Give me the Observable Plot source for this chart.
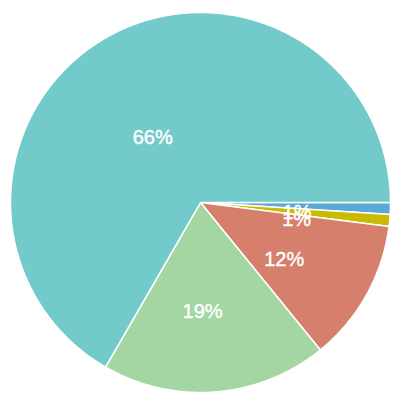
<!DOCTYPE html>
<html>
<head>
<meta charset="utf-8">
<script src="https://cdn.jsdelivr.net/npm/d3@7"></script>
<script src="https://cdn.jsdelivr.net/npm/@observablehq/plot@0.6"></script>
<style>
  html, body { margin: 0; padding: 0; background: #ffffff; }
</style>
</head>
<body>
<div id="chart"></div>
<script>
// Pie segments, clockwise from 3 o'clock
const segments = ["A", "B", "C", "D", "E"];
const shares = [1, 1, 12, 19, 66];
const labels = ["1%", "1%", "12%", "19%", "66%"];
const colors = ["#5ba9d6", "#cabb00", "#d67f6c", "#a3d6a2", "#72cacb"];

// Layout (pixels): pie center and radius inside the 400x400 frame
const W = 400, H = 400, CX = 200, CY = 202, R = 190;

// Angles from d3.pie: 0 = 12 o'clock, clockwise; start at 3 o'clock
const arcs = d3.pie().sort(null)
  .startAngle(Math.PI / 2)
  .endAngle(Math.PI / 2 + 2 * Math.PI)(shares);

// Each slice becomes a closed outline in unit-circle coordinates (y grows downward)
const outline = [];
arcs.forEach((a, i) => {
  const seg = segments[i];
  outline.push({seg, x: 0, y: 0});
  const n = Math.max(2, Math.ceil((a.endAngle - a.startAngle) / (Math.PI / 360)));
  for (let k = 0; k <= n; k++) {
    const t = a.startAngle + (a.endAngle - a.startAngle) * k / n;
    outline.push({seg, x: Math.sin(t), y: -Math.cos(t)});
  }
  outline.push({seg, x: 0, y: 0});
});

// Label anchors along each slice's mid angle
const total = d3.sum(shares);
const labelRows = arcs.map((a, i) => {
  const mid = (a.startAngle + a.endAngle) / 2;
  const r = shares[i] / total > 0.5 ? 0.44 : 0.54;
  return {seg: segments[i], text: labels[i], x: r * Math.sin(mid), y: -r * Math.cos(mid)};
});

const chart = Plot.plot({
  width: W,
  height: H,
  margin: 0,
  x: {domain: [-CX / R, (W - CX) / R], axis: null},
  y: {domain: [-CY / R, (H - CY) / R], range: [0, H], axis: null},
  color: {domain: segments, range: colors},
  marks: [
    Plot.line(outline, {
      x: "x", y: "y", z: "seg",
      fill: "seg",
      stroke: "#ffffff",
      strokeWidth: 1.5,
      strokeLinejoin: "round"
    }),
    Plot.text(labelRows, {
      x: "x", y: "y", text: "text",
      dx: -6, dy: 7,
      fill: "#ffffff",
      stroke: "#ffffff",
      strokeWidth: 0.4,
      fontSize: 20,
      fontFamily: "'Liberation Sans', Arial, sans-serif"
    })
  ]
});

document.getElementById("chart").appendChild(chart);
</script>
</body>
</html>
